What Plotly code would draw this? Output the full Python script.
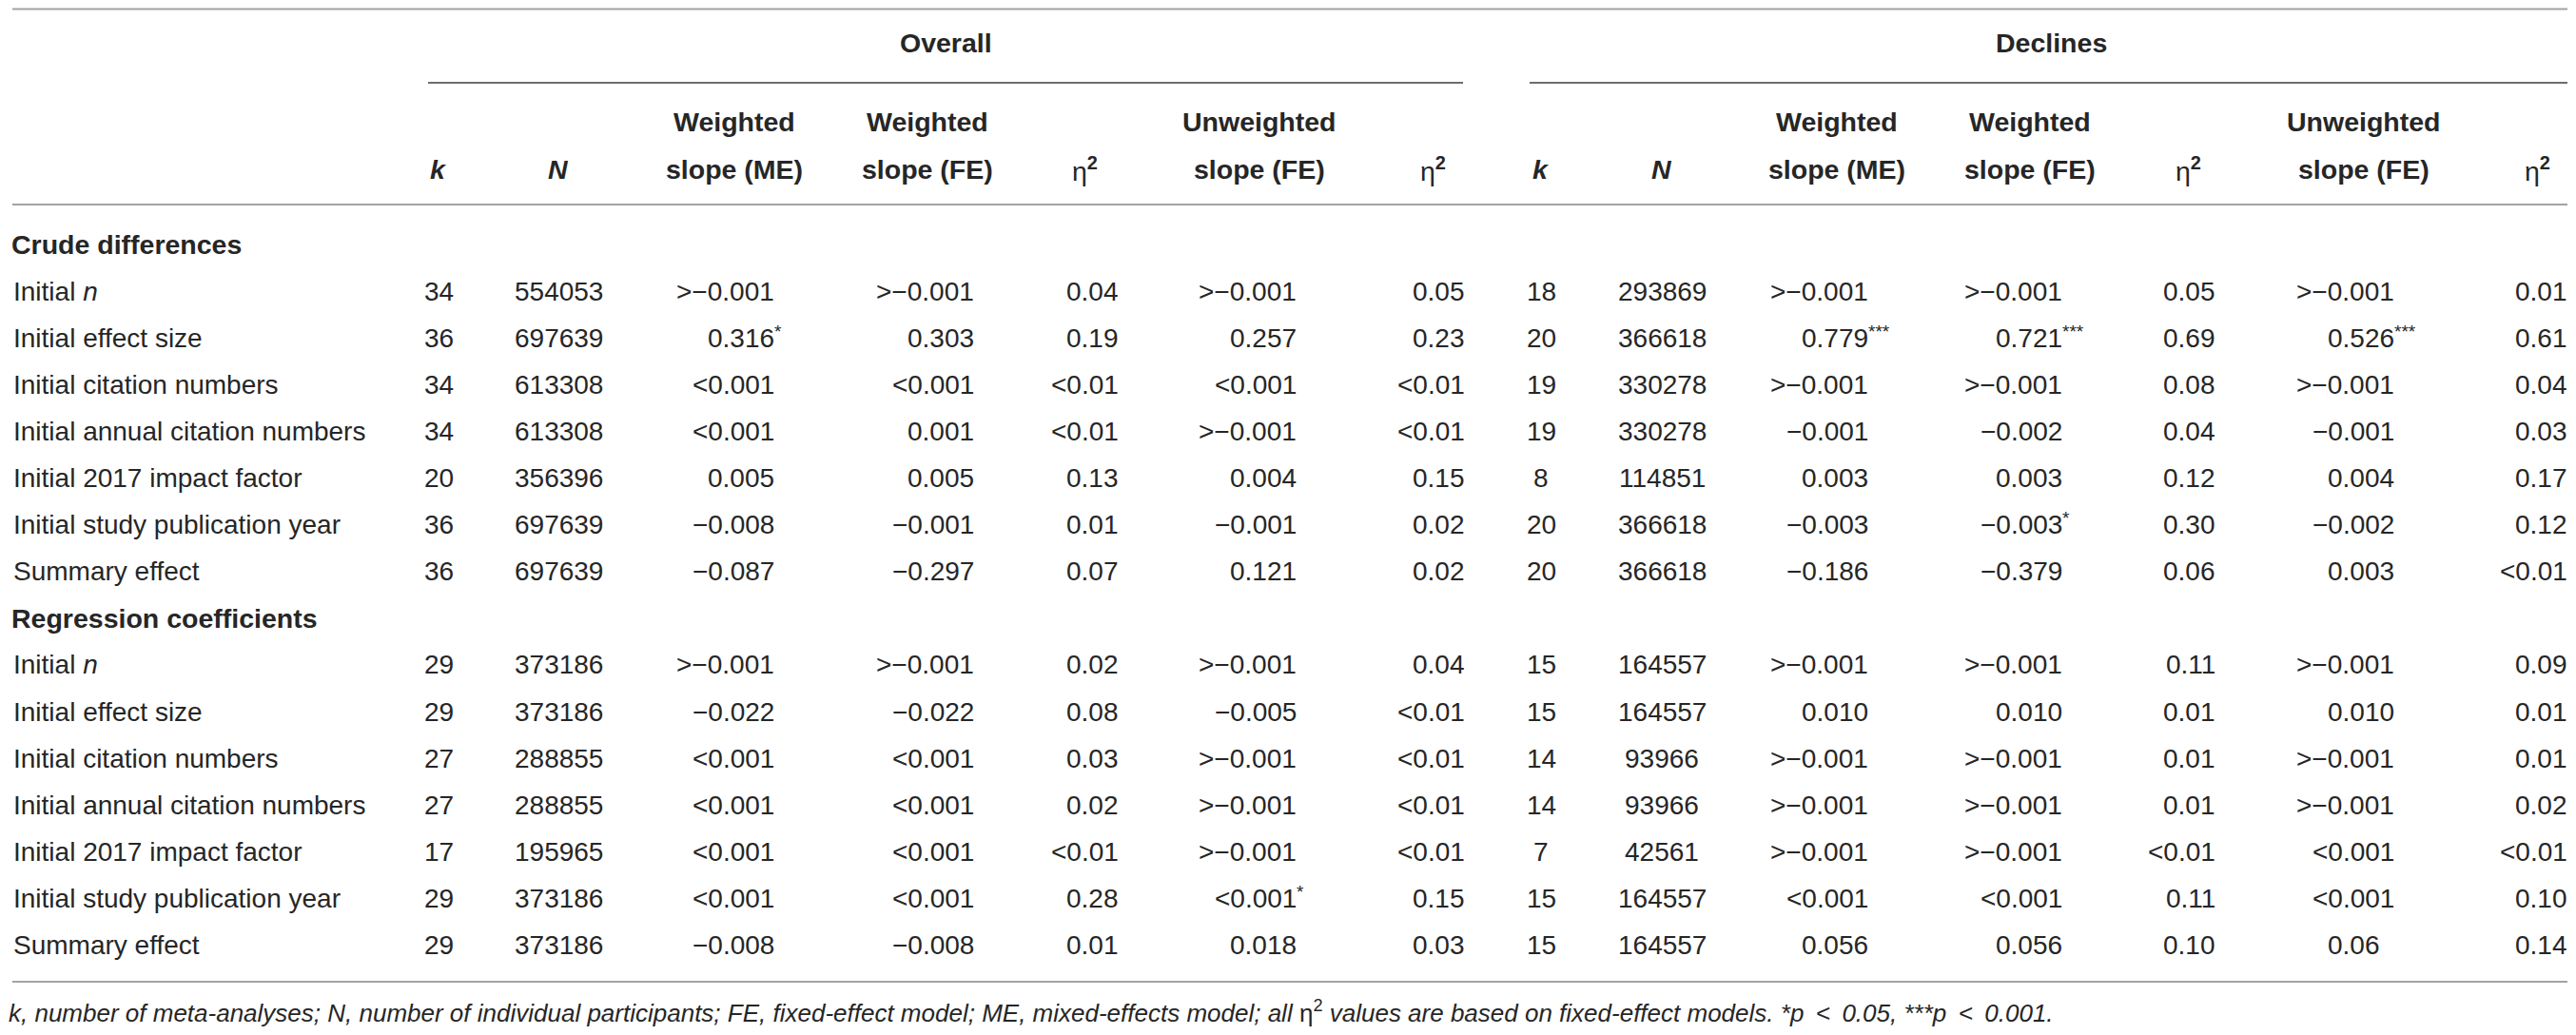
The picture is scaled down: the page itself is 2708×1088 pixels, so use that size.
import plotly.graph_objects as go

# ---------------- data ----------------
section_titles = ["Crude differences", "Regression coefficients"]
predictors = ["Initial <i>n</i>", "Initial effect size", "Initial citation numbers",
              "Initial annual citation numbers", "Initial 2017 impact factor",
              "Initial study publication year", "Summary effect"]

# 14 rows: first 7 = crude differences, last 7 = regression coefficients
ov_k = [34, 36, 34, 34, 20, 36, 36, 29, 29, 27, 27, 17, 29, 29]
ov_N = [554053, 697639, 613308, 613308, 356396, 697639, 697639,
        373186, 373186, 288855, 288855, 195965, 373186, 373186]
ov_wme = [">−0.001", "0.316*", "<0.001", "<0.001", "0.005", "−0.008", "−0.087",
          ">−0.001", "−0.022", "<0.001", "<0.001", "<0.001", "<0.001", "−0.008"]
ov_wfe = [">−0.001", "0.303", "<0.001", "0.001", "0.005", "−0.001", "−0.297",
          ">−0.001", "−0.022", "<0.001", "<0.001", "<0.001", "<0.001", "−0.008"]
ov_eta_w = ["0.04", "0.19", "<0.01", "<0.01", "0.13", "0.01", "0.07",
            "0.02", "0.08", "0.03", "0.02", "<0.01", "0.28", "0.01"]
ov_uw = [">−0.001", "0.257", "<0.001", ">−0.001", "0.004", "−0.001", "0.121",
         ">−0.001", "−0.005", ">−0.001", ">−0.001", ">−0.001", "<0.001*", "0.018"]
ov_eta_u = ["0.05", "0.23", "<0.01", "<0.01", "0.15", "0.02", "0.02",
            "0.04", "<0.01", "<0.01", "<0.01", "<0.01", "0.15", "0.03"]

de_k = [18, 20, 19, 19, 8, 20, 20, 15, 15, 14, 14, 7, 15, 15]
de_N = [293869, 366618, 330278, 330278, 114851, 366618, 366618,
        164557, 164557, 93966, 93966, 42561, 164557, 164557]
de_wme = [">−0.001", "0.779***", ">−0.001", "−0.001", "0.003", "−0.003", "−0.186",
          ">−0.001", "0.010", ">−0.001", ">−0.001", ">−0.001", "<0.001", "0.056"]
de_wfe = [">−0.001", "0.721***", ">−0.001", "−0.002", "0.003", "−0.003*", "−0.379",
          ">−0.001", "0.010", ">−0.001", ">−0.001", ">−0.001", "<0.001", "0.056"]
de_eta_w = ["0.05", "0.69", "0.08", "0.04", "0.12", "0.30", "0.06",
            "0.11", "0.01", "0.01", "0.01", "<0.01", "0.11", "0.10"]
de_uw = [">−0.001", "0.526***", ">−0.001", "−0.001", "0.004", "−0.002", "0.003",
         ">−0.001", "0.010", ">−0.001", ">−0.001", "<0.001", "<0.001", "0.06"]
de_eta_u = ["0.01", "0.61", "0.04", "0.03", "0.17", "0.12", "<0.01",
            "0.09", "0.01", "0.01", "0.02", "<0.01", "0.10", "0.14"]

group_titles = ["Overall", "Declines"]
col_headers = [("", "<b><i>k</i></b>"), ("", "<b><i>N</i></b>"),
               ("<b>Weighted</b>", "<b>slope (ME)</b>"),
               ("<b>Weighted</b>", "<b>slope (FE)</b>"),
               ("", "η<sup><b>2</b></sup>"),
               ("<b>Unweighted</b>", "<b>slope (FE)</b>"),
               ("", "η<sup><b>2</b></sup>")]
footnote = ("<i>k, number of meta-analyses; N, number of individual participants; FE, fixed-effect model; "
            "ME, mixed-effects model; all </i>η<sup>2</sup><i> values are based on fixed-effect models. "
            "*p\u2009 < \u20090.05, ***p\u2009 < \u20090.001.</i>")

# ---------------- layout constants ----------------
W, H = 2708, 1088
PAGE_MARGIN = 8          # default body margin of the html page
FONT = "Liberation Sans, Arial, Helvetica, sans-serif"
FS = 28
FSB = 28.5
TXT = "#262626"
RULE = "#a3a3a3"
RULE2 = "#6e6e6e"

# column positions: (kind, x) kind: 'c' centered, 'd' decimal-aligned (x = decimal point)
ov_cols = [("c", 461), ("c", 587), ("d", 760), ("d", 970), ("d", 1137), ("d", 1309), ("d", 1501)]
de_cols = [("c", 1620), ("c", 1747), ("d", 1910), ("d", 2114), ("d", 2290), ("d", 2463), ("d", 2660)]
ov_head_x = [461, 587, 772, 975, 1140, 1324, 1506]
de_head_x = [1620, 1747, 1931, 2134, 2300, 2485, 2667]

y_group = 45
y_under = 87
y_h1, y_h2 = 128, 178
y_top, y_headbot, y_bot = 9.5, 215, 1032
y_first = 257
dy = 49.1
y_foot = 1063
x_left = 13

fig = go.Figure()
fig.add_trace(go.Scatter(x=[PAGE_MARGIN, W - PAGE_MARGIN], y=[PAGE_MARGIN, H - PAGE_MARGIN],
                         mode="markers", marker=dict(opacity=0), hoverinfo="skip",
                         showlegend=False))

ann = []

def add_text(x, y, text, xanchor="center", size=FS, yshift=0):
    ann.append(dict(x=x, y=y, xref="x", yref="y", text=text, showarrow=False,
                    xanchor=xanchor, yanchor="middle", yshift=yshift,
                    font=dict(family=FONT, size=size, color=TXT),
                    borderpad=0, borderwidth=0))

def add_value(kind, x, y, s):
    s = str(s)
    if kind == "c":
        add_text(x, y, s, "center")
        return
    stars = ""
    while s.endswith("*"):
        stars += "*"
        s = s[:-1]
    frac = s[s.index("."):]
    frac_w = (0.278 + 0.556 * (len(frac) - 1)) * FS
    xr = x + frac_w
    add_text(xr, y, s, "right")
    if stars:
        add_text(xr, y, stars, "left", size=FS * 0.68, yshift=7)

# group titles
add_text(994, y_group, "<b>" + group_titles[0] + "</b>", size=FSB)
add_text(2156, y_group, "<b>" + group_titles[1] + "</b>", size=FSB)

# column headers
for hx_list in (ov_head_x, de_head_x):
    for (h1, h2), hx in zip(col_headers, hx_list):
        if h1:
            add_text(hx, y_h1, h1, size=FSB)
        add_text(hx, y_h2, h2, size=FSB)

ov_data = [ov_k, ov_N, ov_wme, ov_wfe, ov_eta_w, ov_uw, ov_eta_u]
de_data = [de_k, de_N, de_wme, de_wfe, de_eta_w, de_uw, de_eta_u]

row = 0
for si, title in enumerate(section_titles):
    y = y_first + dy * row
    add_text(x_left - 1, y, "<b>" + title + "</b>", "left", size=FSB)
    row += 1
    for pi, pname in enumerate(predictors):
        y = y_first + dy * row
        idx = si * 7 + pi
        add_text(x_left + 1, y, pname, "left")
        for cols, data in ((ov_cols, ov_data), (de_cols, de_data)):
            for (kind, cx), vals in zip(cols, data):
                add_value(kind, cx, y, vals[idx])
        row += 1

# footnote
ann.append(dict(x=9, y=y_foot, xref="x", yref="y", text=footnote, showarrow=False,
                xanchor="left", yanchor="middle",
                font=dict(family=FONT, size=26, color=TXT), borderpad=0, borderwidth=0))

shapes = []
def hline(x0, x1, y, color=RULE, w=2):
    shapes.append(dict(type="line", xref="x", yref="y", x0=x0, x1=x1, y0=y, y1=y,
                       line=dict(color=color, width=w)))

hline(x_left, 2699, y_top)
hline(450, 1538, y_under, RULE2)
hline(1608, 2699, y_under, RULE2)
hline(x_left, 2699, y_headbot)
hline(x_left, 2699, y_bot)

# figure sized so that, with the page's 8px body margin, axis coords == window pixels
fig.update_layout(
    width=W - 2 * PAGE_MARGIN, height=H - 2 * PAGE_MARGIN,
    margin=dict(l=0, r=0, t=0, b=0),
    paper_bgcolor="white", plot_bgcolor="white",
    xaxis=dict(range=[PAGE_MARGIN, W - PAGE_MARGIN], visible=False, fixedrange=True),
    yaxis=dict(range=[H - PAGE_MARGIN, PAGE_MARGIN], visible=False, fixedrange=True),
    annotations=ann, shapes=shapes, showlegend=False,
)

fig.write_html("out.html")
